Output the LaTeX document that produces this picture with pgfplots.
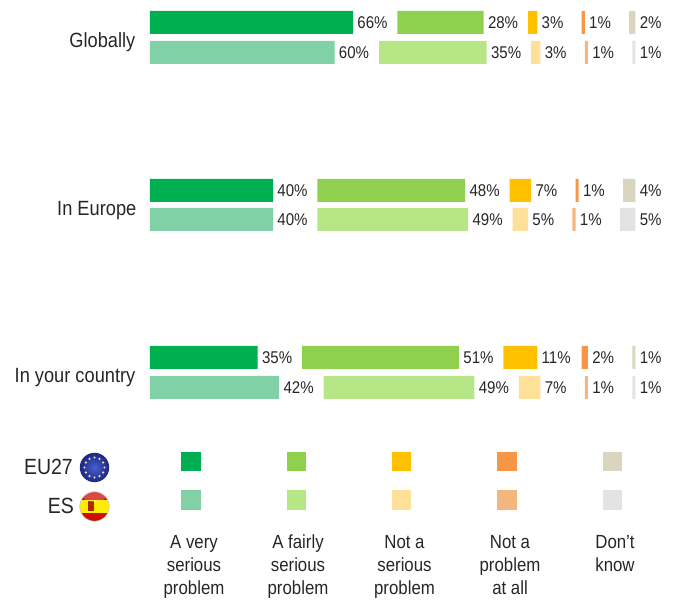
\documentclass[border=0pt]{standalone}
\usepackage{fontspec}
\setmainfont[FakeStretch=0.885]{Liberation Sans}
\usepackage{pgfplots}
\usepackage{pgfplotstable}
\pgfplotsset{compat=1.18}

\definecolor{txt}{HTML}{262626}
\definecolor{euA}{HTML}{00B050}
\definecolor{euB}{HTML}{8FD14F}
\definecolor{euC}{HTML}{FFC000}
\definecolor{euD}{HTML}{F79646}
\definecolor{euE}{HTML}{D9D5BF}
\definecolor{esA}{HTML}{80D2A6}
\definecolor{esB}{HTML}{B7E687}
\definecolor{esC}{HTML}{FFE098}
\definecolor{esD}{HTML}{F4B57E}
\definecolor{esE}{HTML}{E3E3E3}
\definecolor{flagin}{HTML}{4A5FD0}
\definecolor{flagout}{HTML}{1C2688}
\definecolor{flagstar}{HTML}{E8E6A0}

% y is the row position in pixels from the top
\pgfplotstableread{
y     a  gap  b  c  d  e
22.5  66 14.45 28 3  1  2
190.5 40 14.45 48 7  1  4
357.5 35 14.45 51 11 2  1
}\eudata
\pgfplotstableread{
y     a  gap  b  c  d  e
52.5  60 14.45 35 3  1  1
219.5 40 14.45 49 5  1  5
387.5 42 14.45 49 7  1  1
}\esdata

\pgfplotsset{
  canvas/.style={
    at={(0,0)}, anchor=south west,
    scale only axis, width=679pt, height=601pt,
    xmin=-48.76, xmax=171.98, ymin=0, ymax=601,
    y dir=reverse, hide axis, clip=false,
  },
  bars/.style={
    canvas, xbar stacked, bar width=23pt, bar shift=0pt,
    point meta=explicit,
    /pgf/number format/assume math mode=true,
  },
  seg/.style={draw=none, fill=#1},
  % the label of a segment hangs on the empty spacer after it
  spacer/.style={draw=none, fill=none,
    nodes near coords={\pgfmathprintnumber{\pgfplotspointmeta}\%},
    every node near coord/.append style={
      anchor=west, xshift=-18pt, yshift=-0.5pt, text=txt, inner xsep=0pt,
      font=\fontsize{17}{20}\selectfont},
  },
  swatch/.style={only marks, mark=square*, mark size=9.25pt, mark options={draw=#1, fill=#1, line width=0pt}},
}

\begin{document}
\begin{tikzpicture}
\useasboundingbox (0,0) rectangle (679pt,601pt);

% EU27 rows
\begin{axis}[bars]
\addplot[seg=euA] table[x=a,y=y] {\eudata};
\addplot[spacer] table[x=gap,y=y,meta=a] {\eudata};
\addplot[seg=euB] table[x=b,y=y] {\eudata};
\addplot[spacer] table[x=gap,y=y,meta=b] {\eudata};
\addplot[seg=euC] table[x=c,y=y] {\eudata};
\addplot[spacer] table[x=gap,y=y,meta=c] {\eudata};
\addplot[seg=euD] table[x=d,y=y] {\eudata};
\addplot[spacer] table[x=gap,y=y,meta=d] {\eudata};
\addplot[seg=euE] table[x=e,y=y] {\eudata};
\addplot[spacer] table[x=gap,y=y,meta=e] {\eudata};
\end{axis}

% ES rows
\begin{axis}[bars]
\addplot[seg=esA] table[x=a,y=y] {\esdata};
\addplot[spacer] table[x=gap,y=y,meta=a] {\esdata};
\addplot[seg=esB] table[x=b,y=y] {\esdata};
\addplot[spacer] table[x=gap,y=y,meta=b] {\esdata};
\addplot[seg=esC] table[x=c,y=y] {\esdata};
\addplot[spacer] table[x=gap,y=y,meta=c] {\esdata};
\addplot[seg=esD] table[x=d,y=y] {\esdata};
\addplot[spacer] table[x=gap,y=y,meta=d] {\esdata};
\addplot[seg=esE] table[x=e,y=y] {\esdata};
\addplot[spacer] table[x=gap,y=y,meta=e] {\esdata};
\end{axis}

% legend and row names, in pixel coordinates
\begin{axis}[canvas, xmin=0, xmax=679]
\addplot[swatch=euA] coordinates {(191,461.5)};
\addplot[swatch=euB] coordinates {(296.5,461.5)};
\addplot[swatch=euC] coordinates {(401.7,461.5)};
\addplot[swatch=euD] coordinates {(507,461.5)};
\addplot[swatch=euE] coordinates {(612.5,461.5)};
\addplot[swatch=esA] coordinates {(191,500)};
\addplot[swatch=esB] coordinates {(296.5,500)};
\addplot[swatch=esC] coordinates {(401.7,500)};
\addplot[swatch=esD] coordinates {(507,500)};
\addplot[swatch=esE] coordinates {(612.5,500)};

\tikzset{rowname/.style={anchor=east, inner sep=0pt, text=txt, font=\fontsize{20.6}{25}\selectfont},
  legtext/.style={anchor=north, inner sep=0pt, align=center, text=txt, font=\fontsize{19}{23}\selectfont}}
\node[rowname] at (axis cs:135.5,42.5) {Globally};
\node[rowname] at (axis cs:136.5,210.5) {In Europe};
\node[rowname] at (axis cs:135.5,377.5) {In your country};
\node[anchor=east, inner sep=0pt, text=txt, font=\fontsize{22}{26}\selectfont] at (axis cs:73,467) {EU27};
\node[anchor=east, inner sep=0pt, text=txt, font=\fontsize{22}{26}\selectfont] at (axis cs:74,506) {ES};
\node[legtext] at (axis cs:194,535) {A very\\serious\\problem};
\node[legtext] at (axis cs:298,535) {A fairly\\serious\\problem};
\node[legtext] at (axis cs:404.5,535) {Not a\\serious\\problem};
\node[legtext] at (axis cs:510,535) {Not a\\problem\\at all};
\node[legtext] at (axis cs:615,535) {Don't\\know};
\end{axis}

% flags (page is 601pt high, so y = 601 - pixel row)
\shade[inner color=flagin, outer color=flagout, shading=radial] (94.5pt,133.5pt) circle (14.7pt);
\foreach \a in {0,30,...,330}
  \fill[flagstar] (94.5pt,133.5pt) ++(\a:10pt) circle (1.2pt);
\begin{scope}
\clip (94.5pt,94.5pt) circle (14.7pt);
\fill[red!80!black!90!orange] (79pt,79pt) rectangle (110pt,110pt);
\fill[yellow!95!orange] (79pt,88pt) rectangle (110pt,101pt);
\fill[red!55!black!70!orange] (87.5pt,90pt) rectangle (94pt,99.5pt);
\fill[white, opacity=0.25] (94.5pt,104pt) ellipse (11pt and 5pt);
\end{scope}
\draw[gray!40, line width=0.5pt] (94.5pt,94.5pt) circle (14.7pt);
\end{tikzpicture}
\end{document}
